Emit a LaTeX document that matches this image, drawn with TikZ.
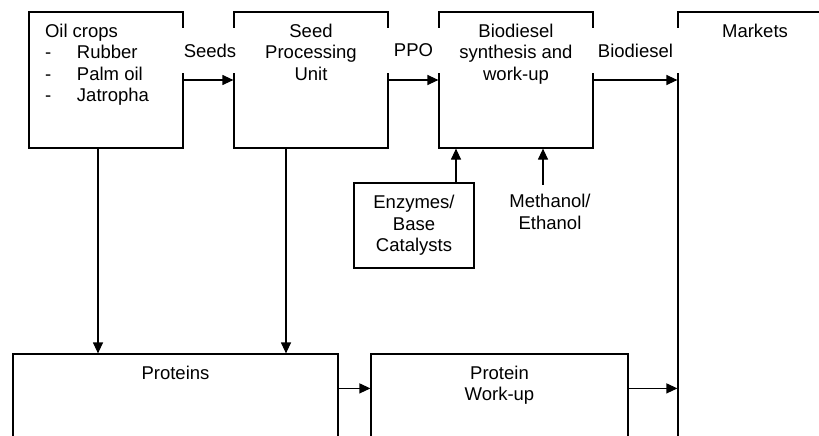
\documentclass[tikz,border=0pt]{standalone}
\usepackage{fontspec}
\setmainfont{Liberation Sans}
\usetikzlibrary{arrows.meta}

\newcommand\cropitem[1]{\makebox[32pt][l]{-}#1}

\begin{document}
\begin{tikzpicture}[
    x=1pt, y=-1pt,
    line width=1.2pt,
    font=\fontsize{18.5}{21.5}\selectfont,
    box/.style={draw, minimum width=154pt, minimum height=136pt, inner sep=0pt},
    top text/.style={label={[anchor=north, inner ysep=12pt, align=center]north:#1}},
    flow label/.style={fill=white, minimum width=56pt, minimum height=45pt, inner xsep=6pt},
    >={Triangle[length=11pt, width=10pt]}
]
\useasboundingbox (0,0) rectangle (819,436);
\clip (0,0) rectangle (819,436);

% Top row
\node[box, label={[anchor=north west, inner xsep=16pt, inner ysep=12pt, align=left]north west:{Oil crops\\\cropitem{Rubber}\\\cropitem{Palm oil}\\\cropitem{Jatropha}}}] (crops) at (106,80) {};
\node[box, top text={Seed\\Processing\\Unit}] (seed) at (311,80) {};
\node[box, top text={Biodiesel\\synthesis and\\work-up}] (synth) at (516,80) {};
\node[box, minimum height=480pt, top text=Markets] (markets) at (755,252) {};

% Inputs
\node[draw, minimum width=120pt, minimum height=85pt, align=center] (enzymes) at (414,225.5) {Enzymes/\\Base\\Catalysts};
\node[align=center, inner ysep=9pt] (methanol) at (550,212) {Methanol/\\Ethanol};

% Bottom row
\node[box, minimum width=325pt, minimum height=200pt, top text=Proteins] (proteins) at (175.5,454) {};
\node[box, minimum width=257pt, minimum height=200pt, top text={Protein\\Work-up}] (workup) at (499.5,454) {};

% Connections
\draw[->] (crops.east) -- (seed.west);
\draw[->] (seed.east) -- (synth.west);
\draw[->] (synth.east) -- (synth.east -| markets.west);
\draw[->] ([xshift=42pt]enzymes.north) -- ([xshift=42pt]enzymes.north |- synth.south);
\draw[->] ([xshift=-7pt]methanol.north) -- ([xshift=-7pt]methanol.north |- synth.south);
\draw[->] ([xshift=-8pt]crops.south) -- ([xshift=-8pt]crops.south |- proteins.north);
\draw[->] ([xshift=-25pt]seed.south) -- ([xshift=-25pt]seed.south |- proteins.north);
\draw[->] ([yshift=-35pt]proteins.north east) -- ([yshift=-35pt]proteins.north east -| workup.west);
\draw[->] ([yshift=-35pt]workup.north east) -- ([yshift=-35pt]workup.north east -| markets.west);

% Flow labels
\node[flow label] (seeds) at (210,50.5) {Seeds};
\node[flow label] (ppo) at (413.5,50.5) {PPO};
\node[flow label] (biodiesel) at (635.5,50.5) {Biodiesel};

\end{tikzpicture}
\end{document}
